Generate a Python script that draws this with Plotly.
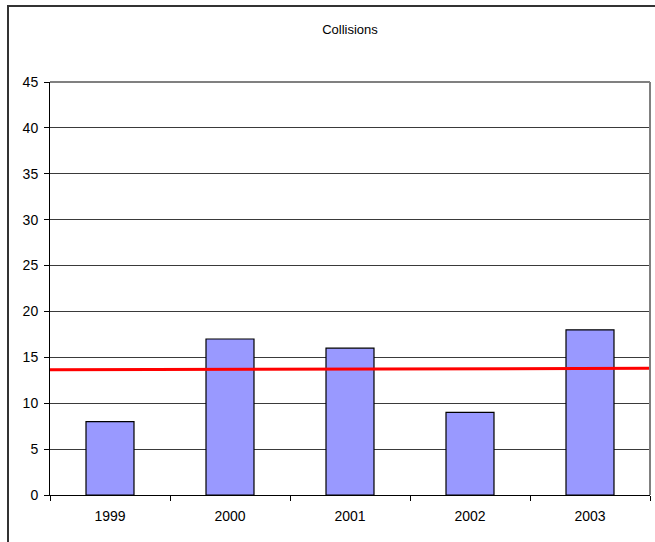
import plotly.graph_objects as go

# Yearly collision counts
years = ["1999", "2000", "2001", "2002", "2003"]
collisions = [8, 17, 16, 9, 18]

# Reference level line (start / end values across the plot)
ref_level = [13.65, 13.8]

y_ticks = [0, 5, 10, 15, 20, 25, 30, 35, 40, 45]

fig = go.Figure()

fig.add_trace(go.Bar(
    x=years,
    y=collisions,
    width=0.4,
    marker=dict(color="#9999FF", line=dict(color="#000000", width=1.2)),
    hoverinfo="x+y",
    showlegend=False,
))

# Level line spans the full plot width on a continuous overlay axis
fig.add_trace(go.Scatter(
    x=[0, 1],
    y=ref_level,
    mode="lines",
    line=dict(color="#FF0000", width=3),
    showlegend=False,
    xaxis="x2",
))

family = "Liberation Sans, Arial, sans-serif"
tick_font = dict(family=family, size=14, color="#000000")

fig.update_layout(
    width=655,
    height=542,
    margin=dict(l=50, r=5, t=82, b=47),
    paper_bgcolor="#FFFFFF",
    plot_bgcolor="#FFFFFF",
    font=dict(family=family, size=13, color="#000000"),
    title=dict(text="Collisions", x=0.5, xanchor="center", xref="paper",
               y=(542 - 29) / 542, yanchor="middle",
               font=dict(family=family, size=13, color="#000000")),
    xaxis=dict(
        type="category",
        categoryarray=years,
        tickson="boundaries",
        ticks="outside",
        ticklen=5,
        tickcolor="#000000",
        ticklabelstandoff=8,
        showline=True,
        linecolor="#000000",
        linewidth=1,
        showgrid=False,
        zeroline=False,
        tickfont=tick_font,
        fixedrange=True,
    ),
    xaxis2=dict(
        overlaying="x",
        type="linear",
        range=[0, 1],
        visible=False,
    ),
    yaxis=dict(
        range=[0, 45],
        tickvals=y_ticks,
        ticks="outside",
        ticklen=5,
        tickcolor="#000000",
        ticklabelstandoff=3,
        showline=True,
        linecolor="#000000",
        linewidth=1,
        showgrid=True,
        gridcolor="#3A3A3A",
        gridwidth=1,
        zeroline=False,
        tickfont=tick_font,
        fixedrange=True,
    ),
    shapes=[
        # plot area frame (top and right edges)
        dict(type="line", xref="paper", yref="paper", x0=0, x1=1, y0=1, y1=1,
             line=dict(color="#808080", width=2), layer="above"),
        dict(type="line", xref="paper", yref="paper", x0=1, x1=1, y0=0, y1=1,
             line=dict(color="#808080", width=2), layer="above"),
        # chart area border
        dict(type="rect", xref="paper", yref="paper",
             x0=(8 - 50) / 600, x1=(665 - 50) / 600,
             y0=(495 - 560) / 413, y1=(495 - 6) / 413,
             line=dict(color="#333333", width=2), layer="above"),
    ],
)

fig.write_html("out.html")
